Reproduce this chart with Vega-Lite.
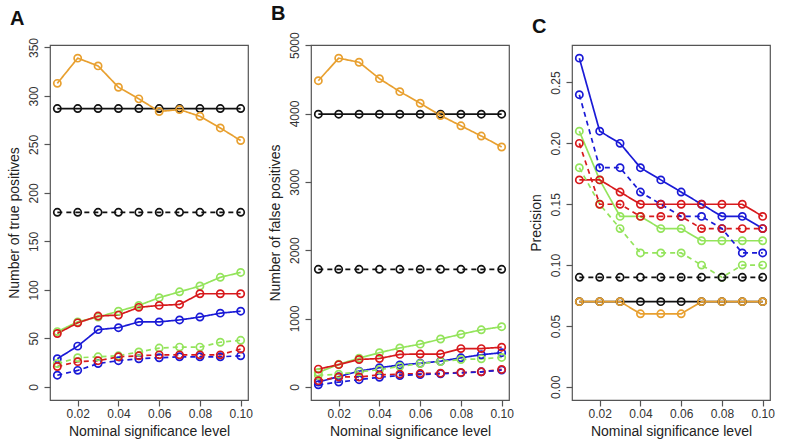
{
"$schema": "https://vega.github.io/schema/vega-lite/v6.json",
"background": "white",
"padding": {"left": 6, "top": 3, "right": 4, "bottom": 2},
"config": {
  "font": "Liberation Sans",
  "view": {"stroke": "#555555", "strokeWidth": 1.2},
  "axis": {"domain": false, "grid": false, "ticks": true, "tickColor": "#555555", "tickSize": 6, "tickWidth": 1.2, "labelFont": "Liberation Sans", "labelFontSize": 12, "labelColor": "#333333", "titleFont": "Liberation Sans", "titleFontSize": 14, "titleFontWeight": "normal", "titleColor": "#222222"},
  "title": {"fontSize": 20, "fontWeight": "bold", "anchor": "start", "frame": "bounds", "color": "#111111", "offset": 8},
  "concat": {"spacing": 14}
},
"data": {"values": [
{"p":"A","m":"k","s":"solid","x":0.01,"y":287},{"p":"A","m":"k","s":"solid","x":0.02,"y":287},{"p":"A","m":"k","s":"solid","x":0.03,"y":287},{"p":"A","m":"k","s":"solid","x":0.04,"y":287},{"p":"A","m":"k","s":"solid","x":0.05,"y":287},{"p":"A","m":"k","s":"solid","x":0.06,"y":287},{"p":"A","m":"k","s":"solid","x":0.07,"y":287},{"p":"A","m":"k","s":"solid","x":0.08,"y":287},{"p":"A","m":"k","s":"solid","x":0.09,"y":287},{"p":"A","m":"k","s":"solid","x":0.1,"y":287},
{"p":"A","m":"o","s":"solid","x":0.01,"y":313},{"p":"A","m":"o","s":"solid","x":0.02,"y":339},{"p":"A","m":"o","s":"solid","x":0.03,"y":331},{"p":"A","m":"o","s":"solid","x":0.04,"y":309},{"p":"A","m":"o","s":"solid","x":0.05,"y":297},{"p":"A","m":"o","s":"solid","x":0.06,"y":284},{"p":"A","m":"o","s":"solid","x":0.07,"y":286},{"p":"A","m":"o","s":"solid","x":0.08,"y":279},{"p":"A","m":"o","s":"solid","x":0.09,"y":267},{"p":"A","m":"o","s":"solid","x":0.1,"y":254},
{"p":"A","m":"k","s":"dashed","x":0.01,"y":180},{"p":"A","m":"k","s":"dashed","x":0.02,"y":180},{"p":"A","m":"k","s":"dashed","x":0.03,"y":180},{"p":"A","m":"k","s":"dashed","x":0.04,"y":180},{"p":"A","m":"k","s":"dashed","x":0.05,"y":180},{"p":"A","m":"k","s":"dashed","x":0.06,"y":180},{"p":"A","m":"k","s":"dashed","x":0.07,"y":180},{"p":"A","m":"k","s":"dashed","x":0.08,"y":180},{"p":"A","m":"k","s":"dashed","x":0.09,"y":180},{"p":"A","m":"k","s":"dashed","x":0.1,"y":180},
{"p":"A","m":"g","s":"solid","x":0.01,"y":57},{"p":"A","m":"g","s":"solid","x":0.02,"y":67},{"p":"A","m":"g","s":"solid","x":0.03,"y":72},{"p":"A","m":"g","s":"solid","x":0.04,"y":78},{"p":"A","m":"g","s":"solid","x":0.05,"y":84},{"p":"A","m":"g","s":"solid","x":0.06,"y":92},{"p":"A","m":"g","s":"solid","x":0.07,"y":98},{"p":"A","m":"g","s":"solid","x":0.08,"y":104},{"p":"A","m":"g","s":"solid","x":0.09,"y":113},{"p":"A","m":"g","s":"solid","x":0.1,"y":118},
{"p":"A","m":"r","s":"solid","x":0.01,"y":55},{"p":"A","m":"r","s":"solid","x":0.02,"y":66},{"p":"A","m":"r","s":"solid","x":0.03,"y":73},{"p":"A","m":"r","s":"solid","x":0.04,"y":74},{"p":"A","m":"r","s":"solid","x":0.05,"y":82},{"p":"A","m":"r","s":"solid","x":0.06,"y":84},{"p":"A","m":"r","s":"solid","x":0.07,"y":85},{"p":"A","m":"r","s":"solid","x":0.08,"y":96},{"p":"A","m":"r","s":"solid","x":0.09,"y":96},{"p":"A","m":"r","s":"solid","x":0.1,"y":96},
{"p":"A","m":"b","s":"solid","x":0.01,"y":29},{"p":"A","m":"b","s":"solid","x":0.02,"y":42},{"p":"A","m":"b","s":"solid","x":0.03,"y":59},{"p":"A","m":"b","s":"solid","x":0.04,"y":61},{"p":"A","m":"b","s":"solid","x":0.05,"y":67},{"p":"A","m":"b","s":"solid","x":0.06,"y":67},{"p":"A","m":"b","s":"solid","x":0.07,"y":69},{"p":"A","m":"b","s":"solid","x":0.08,"y":72},{"p":"A","m":"b","s":"solid","x":0.09,"y":76},{"p":"A","m":"b","s":"solid","x":0.1,"y":78},
{"p":"A","m":"g","s":"dashed","x":0.01,"y":24},{"p":"A","m":"g","s":"dashed","x":0.02,"y":30},{"p":"A","m":"g","s":"dashed","x":0.03,"y":31},{"p":"A","m":"g","s":"dashed","x":0.04,"y":32},{"p":"A","m":"g","s":"dashed","x":0.05,"y":36},{"p":"A","m":"g","s":"dashed","x":0.06,"y":40},{"p":"A","m":"g","s":"dashed","x":0.07,"y":41},{"p":"A","m":"g","s":"dashed","x":0.08,"y":41},{"p":"A","m":"g","s":"dashed","x":0.09,"y":46},{"p":"A","m":"g","s":"dashed","x":0.1,"y":48},
{"p":"A","m":"r","s":"dashed","x":0.01,"y":21},{"p":"A","m":"r","s":"dashed","x":0.02,"y":26},{"p":"A","m":"r","s":"dashed","x":0.03,"y":27},{"p":"A","m":"r","s":"dashed","x":0.04,"y":31},{"p":"A","m":"r","s":"dashed","x":0.05,"y":32},{"p":"A","m":"r","s":"dashed","x":0.06,"y":33},{"p":"A","m":"r","s":"dashed","x":0.07,"y":33},{"p":"A","m":"r","s":"dashed","x":0.08,"y":33},{"p":"A","m":"r","s":"dashed","x":0.09,"y":33},{"p":"A","m":"r","s":"dashed","x":0.1,"y":39},
{"p":"A","m":"b","s":"dashed","x":0.01,"y":12},{"p":"A","m":"b","s":"dashed","x":0.02,"y":17},{"p":"A","m":"b","s":"dashed","x":0.03,"y":24},{"p":"A","m":"b","s":"dashed","x":0.04,"y":27},{"p":"A","m":"b","s":"dashed","x":0.05,"y":29},{"p":"A","m":"b","s":"dashed","x":0.06,"y":30},{"p":"A","m":"b","s":"dashed","x":0.07,"y":31},{"p":"A","m":"b","s":"dashed","x":0.08,"y":31},{"p":"A","m":"b","s":"dashed","x":0.09,"y":31},{"p":"A","m":"b","s":"dashed","x":0.1,"y":32},
{"p":"B","m":"k","s":"solid","x":0.01,"y":3990},{"p":"B","m":"k","s":"solid","x":0.02,"y":3990},{"p":"B","m":"k","s":"solid","x":0.03,"y":3990},{"p":"B","m":"k","s":"solid","x":0.04,"y":3990},{"p":"B","m":"k","s":"solid","x":0.05,"y":3990},{"p":"B","m":"k","s":"solid","x":0.06,"y":3990},{"p":"B","m":"k","s":"solid","x":0.07,"y":3990},{"p":"B","m":"k","s":"solid","x":0.08,"y":3990},{"p":"B","m":"k","s":"solid","x":0.09,"y":3990},{"p":"B","m":"k","s":"solid","x":0.1,"y":3990},
{"p":"B","m":"o","s":"solid","x":0.01,"y":4480},{"p":"B","m":"o","s":"solid","x":0.02,"y":4810},{"p":"B","m":"o","s":"solid","x":0.03,"y":4750},{"p":"B","m":"o","s":"solid","x":0.04,"y":4510},{"p":"B","m":"o","s":"solid","x":0.05,"y":4320},{"p":"B","m":"o","s":"solid","x":0.06,"y":4150},{"p":"B","m":"o","s":"solid","x":0.07,"y":3970},{"p":"B","m":"o","s":"solid","x":0.08,"y":3820},{"p":"B","m":"o","s":"solid","x":0.09,"y":3670},{"p":"B","m":"o","s":"solid","x":0.1,"y":3510},
{"p":"B","m":"k","s":"dashed","x":0.01,"y":1720},{"p":"B","m":"k","s":"dashed","x":0.02,"y":1720},{"p":"B","m":"k","s":"dashed","x":0.03,"y":1720},{"p":"B","m":"k","s":"dashed","x":0.04,"y":1720},{"p":"B","m":"k","s":"dashed","x":0.05,"y":1720},{"p":"B","m":"k","s":"dashed","x":0.06,"y":1720},{"p":"B","m":"k","s":"dashed","x":0.07,"y":1720},{"p":"B","m":"k","s":"dashed","x":0.08,"y":1720},{"p":"B","m":"k","s":"dashed","x":0.09,"y":1720},{"p":"B","m":"k","s":"dashed","x":0.1,"y":1720},
{"p":"B","m":"g","s":"solid","x":0.01,"y":210},{"p":"B","m":"g","s":"solid","x":0.02,"y":330},{"p":"B","m":"g","s":"solid","x":0.03,"y":420},{"p":"B","m":"g","s":"solid","x":0.04,"y":500},{"p":"B","m":"g","s":"solid","x":0.05,"y":570},{"p":"B","m":"g","s":"solid","x":0.06,"y":625},{"p":"B","m":"g","s":"solid","x":0.07,"y":700},{"p":"B","m":"g","s":"solid","x":0.08,"y":770},{"p":"B","m":"g","s":"solid","x":0.09,"y":835},{"p":"B","m":"g","s":"solid","x":0.1,"y":880},
{"p":"B","m":"r","s":"solid","x":0.01,"y":260},{"p":"B","m":"r","s":"solid","x":0.02,"y":325},{"p":"B","m":"r","s":"solid","x":0.03,"y":400},{"p":"B","m":"r","s":"solid","x":0.04,"y":415},{"p":"B","m":"r","s":"solid","x":0.05,"y":475},{"p":"B","m":"r","s":"solid","x":0.06,"y":480},{"p":"B","m":"r","s":"solid","x":0.07,"y":480},{"p":"B","m":"r","s":"solid","x":0.08,"y":560},{"p":"B","m":"r","s":"solid","x":0.09,"y":560},{"p":"B","m":"r","s":"solid","x":0.1,"y":580},
{"p":"B","m":"b","s":"solid","x":0.01,"y":70},{"p":"B","m":"b","s":"solid","x":0.02,"y":150},{"p":"B","m":"b","s":"solid","x":0.03,"y":230},{"p":"B","m":"b","s":"solid","x":0.04,"y":280},{"p":"B","m":"b","s":"solid","x":0.05,"y":320},{"p":"B","m":"b","s":"solid","x":0.06,"y":345},{"p":"B","m":"b","s":"solid","x":0.07,"y":375},{"p":"B","m":"b","s":"solid","x":0.08,"y":425},{"p":"B","m":"b","s":"solid","x":0.09,"y":470},{"p":"B","m":"b","s":"solid","x":0.1,"y":500},
{"p":"B","m":"g","s":"dashed","x":0.01,"y":170},{"p":"B","m":"g","s":"dashed","x":0.02,"y":185},{"p":"B","m":"g","s":"dashed","x":0.03,"y":220},{"p":"B","m":"g","s":"dashed","x":0.04,"y":250},{"p":"B","m":"g","s":"dashed","x":0.05,"y":300},{"p":"B","m":"g","s":"dashed","x":0.06,"y":340},{"p":"B","m":"g","s":"dashed","x":0.07,"y":370},{"p":"B","m":"g","s":"dashed","x":0.08,"y":400},{"p":"B","m":"g","s":"dashed","x":0.09,"y":410},{"p":"B","m":"g","s":"dashed","x":0.1,"y":430},
{"p":"B","m":"r","s":"dashed","x":0.01,"y":90},{"p":"B","m":"r","s":"dashed","x":0.02,"y":145},{"p":"B","m":"r","s":"dashed","x":0.03,"y":145},{"p":"B","m":"r","s":"dashed","x":0.04,"y":175},{"p":"B","m":"r","s":"dashed","x":0.05,"y":185},{"p":"B","m":"r","s":"dashed","x":0.06,"y":195},{"p":"B","m":"r","s":"dashed","x":0.07,"y":200},{"p":"B","m":"r","s":"dashed","x":0.08,"y":210},{"p":"B","m":"r","s":"dashed","x":0.09,"y":220},{"p":"B","m":"r","s":"dashed","x":0.1,"y":255},
{"p":"B","m":"b","s":"dashed","x":0.01,"y":30},{"p":"B","m":"b","s":"dashed","x":0.02,"y":70},{"p":"B","m":"b","s":"dashed","x":0.03,"y":105},{"p":"B","m":"b","s":"dashed","x":0.04,"y":140},{"p":"B","m":"b","s":"dashed","x":0.05,"y":165},{"p":"B","m":"b","s":"dashed","x":0.06,"y":180},{"p":"B","m":"b","s":"dashed","x":0.07,"y":190},{"p":"B","m":"b","s":"dashed","x":0.08,"y":205},{"p":"B","m":"b","s":"dashed","x":0.09,"y":220},{"p":"B","m":"b","s":"dashed","x":0.1,"y":245},
{"p":"C","m":"k","s":"solid","x":0.01,"y":0.07},{"p":"C","m":"k","s":"solid","x":0.02,"y":0.07},{"p":"C","m":"k","s":"solid","x":0.03,"y":0.07},{"p":"C","m":"k","s":"solid","x":0.04,"y":0.07},{"p":"C","m":"k","s":"solid","x":0.05,"y":0.07},{"p":"C","m":"k","s":"solid","x":0.06,"y":0.07},{"p":"C","m":"k","s":"solid","x":0.07,"y":0.07},{"p":"C","m":"k","s":"solid","x":0.08,"y":0.07},{"p":"C","m":"k","s":"solid","x":0.09,"y":0.07},{"p":"C","m":"k","s":"solid","x":0.1,"y":0.07},
{"p":"C","m":"o","s":"solid","x":0.01,"y":0.07},{"p":"C","m":"o","s":"solid","x":0.02,"y":0.07},{"p":"C","m":"o","s":"solid","x":0.03,"y":0.07},{"p":"C","m":"o","s":"solid","x":0.04,"y":0.06},{"p":"C","m":"o","s":"solid","x":0.05,"y":0.06},{"p":"C","m":"o","s":"solid","x":0.06,"y":0.06},{"p":"C","m":"o","s":"solid","x":0.07,"y":0.07},{"p":"C","m":"o","s":"solid","x":0.08,"y":0.07},{"p":"C","m":"o","s":"solid","x":0.09,"y":0.07},{"p":"C","m":"o","s":"solid","x":0.1,"y":0.07},
{"p":"C","m":"k","s":"dashed","x":0.01,"y":0.09},{"p":"C","m":"k","s":"dashed","x":0.02,"y":0.09},{"p":"C","m":"k","s":"dashed","x":0.03,"y":0.09},{"p":"C","m":"k","s":"dashed","x":0.04,"y":0.09},{"p":"C","m":"k","s":"dashed","x":0.05,"y":0.09},{"p":"C","m":"k","s":"dashed","x":0.06,"y":0.09},{"p":"C","m":"k","s":"dashed","x":0.07,"y":0.09},{"p":"C","m":"k","s":"dashed","x":0.08,"y":0.09},{"p":"C","m":"k","s":"dashed","x":0.09,"y":0.09},{"p":"C","m":"k","s":"dashed","x":0.1,"y":0.09},
{"p":"C","m":"g","s":"solid","x":0.01,"y":0.21},{"p":"C","m":"g","s":"solid","x":0.02,"y":0.17},{"p":"C","m":"g","s":"solid","x":0.03,"y":0.14},{"p":"C","m":"g","s":"solid","x":0.04,"y":0.14},{"p":"C","m":"g","s":"solid","x":0.05,"y":0.13},{"p":"C","m":"g","s":"solid","x":0.06,"y":0.13},{"p":"C","m":"g","s":"solid","x":0.07,"y":0.12},{"p":"C","m":"g","s":"solid","x":0.08,"y":0.12},{"p":"C","m":"g","s":"solid","x":0.09,"y":0.12},{"p":"C","m":"g","s":"solid","x":0.1,"y":0.12},
{"p":"C","m":"r","s":"solid","x":0.01,"y":0.17},{"p":"C","m":"r","s":"solid","x":0.02,"y":0.17},{"p":"C","m":"r","s":"solid","x":0.03,"y":0.16},{"p":"C","m":"r","s":"solid","x":0.04,"y":0.15},{"p":"C","m":"r","s":"solid","x":0.05,"y":0.15},{"p":"C","m":"r","s":"solid","x":0.06,"y":0.15},{"p":"C","m":"r","s":"solid","x":0.07,"y":0.15},{"p":"C","m":"r","s":"solid","x":0.08,"y":0.15},{"p":"C","m":"r","s":"solid","x":0.09,"y":0.15},{"p":"C","m":"r","s":"solid","x":0.1,"y":0.14},
{"p":"C","m":"b","s":"solid","x":0.01,"y":0.27},{"p":"C","m":"b","s":"solid","x":0.02,"y":0.21},{"p":"C","m":"b","s":"solid","x":0.03,"y":0.20},{"p":"C","m":"b","s":"solid","x":0.04,"y":0.18},{"p":"C","m":"b","s":"solid","x":0.05,"y":0.17},{"p":"C","m":"b","s":"solid","x":0.06,"y":0.16},{"p":"C","m":"b","s":"solid","x":0.07,"y":0.15},{"p":"C","m":"b","s":"solid","x":0.08,"y":0.14},{"p":"C","m":"b","s":"solid","x":0.09,"y":0.14},{"p":"C","m":"b","s":"solid","x":0.1,"y":0.13},
{"p":"C","m":"g","s":"dashed","x":0.01,"y":0.18},{"p":"C","m":"g","s":"dashed","x":0.02,"y":0.15},{"p":"C","m":"g","s":"dashed","x":0.03,"y":0.13},{"p":"C","m":"g","s":"dashed","x":0.04,"y":0.11},{"p":"C","m":"g","s":"dashed","x":0.05,"y":0.11},{"p":"C","m":"g","s":"dashed","x":0.06,"y":0.11},{"p":"C","m":"g","s":"dashed","x":0.07,"y":0.10},{"p":"C","m":"g","s":"dashed","x":0.08,"y":0.09},{"p":"C","m":"g","s":"dashed","x":0.09,"y":0.10},{"p":"C","m":"g","s":"dashed","x":0.1,"y":0.10},
{"p":"C","m":"r","s":"dashed","x":0.01,"y":0.20},{"p":"C","m":"r","s":"dashed","x":0.02,"y":0.15},{"p":"C","m":"r","s":"dashed","x":0.03,"y":0.15},{"p":"C","m":"r","s":"dashed","x":0.04,"y":0.14},{"p":"C","m":"r","s":"dashed","x":0.05,"y":0.14},{"p":"C","m":"r","s":"dashed","x":0.06,"y":0.14},{"p":"C","m":"r","s":"dashed","x":0.07,"y":0.13},{"p":"C","m":"r","s":"dashed","x":0.08,"y":0.13},{"p":"C","m":"r","s":"dashed","x":0.09,"y":0.13},{"p":"C","m":"r","s":"dashed","x":0.1,"y":0.13},
{"p":"C","m":"b","s":"dashed","x":0.01,"y":0.24},{"p":"C","m":"b","s":"dashed","x":0.02,"y":0.18},{"p":"C","m":"b","s":"dashed","x":0.03,"y":0.18},{"p":"C","m":"b","s":"dashed","x":0.04,"y":0.16},{"p":"C","m":"b","s":"dashed","x":0.05,"y":0.15},{"p":"C","m":"b","s":"dashed","x":0.06,"y":0.14},{"p":"C","m":"b","s":"dashed","x":0.07,"y":0.14},{"p":"C","m":"b","s":"dashed","x":0.08,"y":0.13},{"p":"C","m":"b","s":"dashed","x":0.09,"y":0.11},{"p":"C","m":"b","s":"dashed","x":0.1,"y":0.11}
]},
"hconcat": [
{
 "title": {"text": "A", "dx": 3},
 "width": 198, "height": 355,
 "transform": [{"filter": "datum.p === 'A'"}],
 "encoding": {
  "x": {"field": "x", "type": "quantitative", "scale": {"domain": [0.0064, 0.1036], "nice": false, "zero": false}, "axis": {"values": [0.02, 0.04, 0.06, 0.08, 0.1], "format": ".2f", "title": "Nominal significance level", "labelPadding": 2, "titlePadding": 5}},
  "y": {"field": "y", "type": "quantitative", "scale": {"domain": [-13.56, 352.56], "nice": false, "zero": false}, "axis": {"values": [0, 50, 100, 150, 200, 250, 300, 350], "labelAngle": 270, "labelAlign": "center", "labelBaseline": "bottom", "labelPadding": 4, "title": "Number of true positives", "titlePadding": 6}},
  "color": {"field": "m", "type": "nominal", "scale": {"domain": ["o", "k", "g", "r", "b"], "range": ["#E8A030", "#111111", "#94E45C", "#D7191C", "#1A1AD6"]}, "legend": null}
 },
 "layer": [
  {"mark": {"type": "line", "strokeWidth": 1.7}, "encoding": {"strokeDash": {"field": "s", "type": "nominal", "scale": {"domain": ["solid", "dashed"], "range": [[1, 0], [5, 4]]}, "legend": null}}},
  {"mark": {"type": "point", "shape": "circle", "filled": false, "size": 52, "strokeWidth": 1.7, "opacity": 1}, "encoding": {"detail": {"field": "s"}, "order": {"field": "m", "sort": "ascending"}}}
 ]
},
{
 "title": {"text": "B", "dx": 3},
 "width": 198, "height": 355,
 "transform": [{"filter": "datum.p === 'B'"}],
 "encoding": {
  "x": {"field": "x", "type": "quantitative", "scale": {"domain": [0.0064, 0.1036], "nice": false, "zero": false}, "axis": {"values": [0.02, 0.04, 0.06, 0.08, 0.1], "format": ".2f", "title": "Nominal significance level", "labelPadding": 2, "titlePadding": 5}},
  "y": {"field": "y", "type": "quantitative", "scale": {"domain": [-192.4, 5002.4], "nice": false, "zero": false}, "axis": {"values": [0, 1000, 2000, 3000, 4000, 5000], "format": "d", "labelAngle": 270, "labelAlign": "center", "labelBaseline": "bottom", "labelPadding": 4, "title": "Number of false positives", "titlePadding": 6}},
  "color": {"field": "m", "type": "nominal", "scale": {"domain": ["o", "k", "g", "r", "b"], "range": ["#E8A030", "#111111", "#94E45C", "#D7191C", "#1A1AD6"]}, "legend": null}
 },
 "layer": [
  {"mark": {"type": "line", "strokeWidth": 1.7}, "encoding": {"strokeDash": {"field": "s", "type": "nominal", "scale": {"domain": ["solid", "dashed"], "range": [[1, 0], [5, 4]]}, "legend": null}}},
  {"mark": {"type": "point", "shape": "circle", "filled": false, "size": 52, "strokeWidth": 1.7, "opacity": 1}, "encoding": {"detail": {"field": "s"}, "order": {"field": "m", "sort": "ascending"}}}
 ]
},
{
 "title": {"text": "C", "dx": 3},
 "width": 198, "height": 355,
 "transform": [{"filter": "datum.p === 'C'"}],
 "encoding": {
  "x": {"field": "x", "type": "quantitative", "scale": {"domain": [0.0064, 0.1036], "nice": false, "zero": false}, "axis": {"values": [0.02, 0.04, 0.06, 0.08, 0.1], "format": ".2f", "title": "Nominal significance level", "labelPadding": 2, "titlePadding": 5}},
  "y": {"field": "y", "type": "quantitative", "scale": {"domain": [-0.0108, 0.2808], "nice": false, "zero": false}, "axis": {"values": [0, 0.05, 0.1, 0.15, 0.2, 0.25], "format": ".2f", "labelAngle": 270, "labelAlign": "center", "labelBaseline": "bottom", "labelPadding": 4, "title": "Precision", "titlePadding": 6}},
  "color": {"field": "m", "type": "nominal", "scale": {"domain": ["o", "k", "g", "r", "b"], "range": ["#E8A030", "#111111", "#94E45C", "#D7191C", "#1A1AD6"]}, "legend": null}
 },
 "layer": [
  {"mark": {"type": "line", "strokeWidth": 1.7}, "encoding": {"strokeDash": {"field": "s", "type": "nominal", "scale": {"domain": ["solid", "dashed"], "range": [[1, 0], [5, 4]]}, "legend": null}}},
  {"mark": {"type": "point", "shape": "circle", "filled": false, "size": 52, "strokeWidth": 1.7, "opacity": 1}, "encoding": {"detail": {"field": "s"}, "order": {"field": "m", "sort": "ascending"}}}
 ]
}
]
}
